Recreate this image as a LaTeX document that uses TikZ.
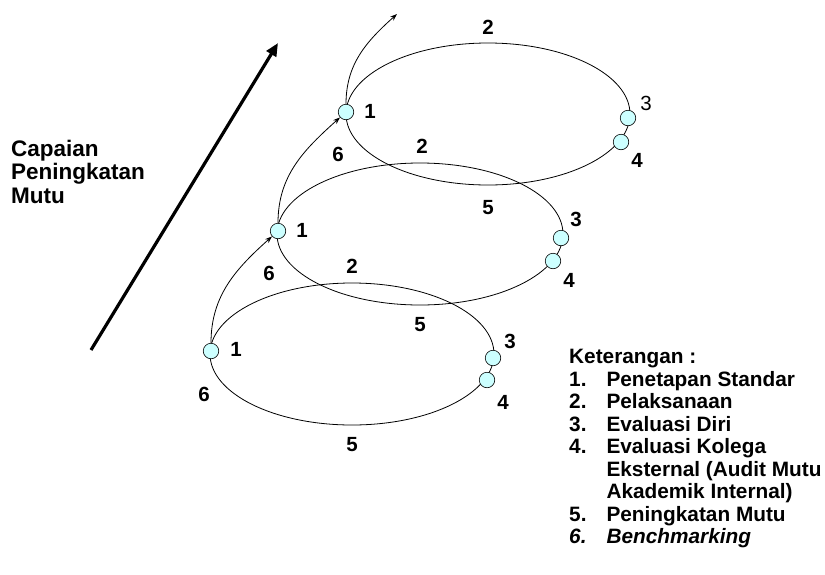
\documentclass[tikz,border=0pt]{standalone}
\usepackage{fontspec}
\setmainfont{Liberation Sans}
\usepackage{xcolor}
\usetikzlibrary{arrows.meta}
\definecolor{dotcyan}{RGB}{204,255,255}

\begin{document}
\begin{tikzpicture}[x=1pt, y=-1pt,
	loop/.style={draw, line width=0.8pt},
	dot/.style={circle, draw, fill=dotcyan, line width=0.6pt, minimum size=15.5pt, inner sep=0pt},
	num/.style={font=\fontsize{20.5}{22}\selectfont\bfseries},
	arr/.style={draw, line width=0.8pt, -{Stealth[length=7pt, width=5pt]}}
]
\useasboundingbox (0,0) rectangle (825,574);

% the three cycles, lowest first
\draw[loop] (352,354) ellipse [x radius=142, y radius=71];
\draw[loop] (420,234) ellipse [x radius=143, y radius=71];
\draw[loop] (488,114) ellipse [x radius=142, y radius=71];

\node[dot] (b1) at (211,351) {};
\node[dot] (b3) at (493,358) {};
\node[dot] (b4) at (487,380) {};
\node[dot] (m1) at (278,231) {};
\node[dot] (m3) at (561,238) {};
\node[dot] (m4) at (553,261) {};
\node[dot] (t1) at (346,112) {};
\node[dot] (t3) at (628,118) {};
\node[dot] (t4) at (621,142) {};
\coordinate (up) at (397,14);

\path[arr] (b1) to[out=90, in=222] (m1);
\path[arr] (m1) to[out=90, in=222] (t1);
\path[arr] (t1) to[out=90, in=222] (up);

% labels of the lowest cycle
\node[num] (b1l) at (236,349) {1};
\node[num] (b2l) at (352,266) {2};
\node[num] (b3l) at (510,341) {3};
\node[num] (b4l) at (503,402) {4};
\node[num] (b5l) at (352,445) {5};
\node[num] (b6l) at (204,394) {6};
% labels of the middle cycle
\node[num] (m1l) at (302,230) {1};
\node[num] (m2l) at (422,146) {2};
\node[num] (m3l) at (576,219) {3};
\node[num] (m4l) at (569,280) {4};
\node[num] (m5l) at (420,325) {5};
\node[num] (m6l) at (269,273) {6};
% labels of the top cycle
\node[num] (t1l) at (370,111) {1};
\node[num] (t2l) at (488,27) {2};
\node[num, font=\fontsize{20.5}{22}\selectfont] (t3l) at (646,103) {3};
\node[num] (t4l) at (637,160) {4};
\node[num] (t5l) at (488,208) {5};
\node[num] (t6l) at (338,154) {6};

% rising quality
\coordinate (rise0) at (91,350);
\coordinate (rise1) at (278,43);
\draw[line width=3.2pt, -{Triangle[length=13pt, width=11pt]}] (rise0) -- (rise1);
\node[anchor=north west, align=left, inner sep=0pt,
	font=\fontsize{22.5}{23.5}\selectfont\bfseries] (goal) at (11,139.5)
	{Capaian\\Peningkatan\\Mutu};

\node[anchor=north west, inner sep=0pt,
	font=\fontsize{20.8}{22.5}\selectfont\bfseries] (legend) at (569,348)
{\begin{tabular}{@{}l@{\hspace{20pt}}l@{}}
\multicolumn{2}{@{}l@{}}{Keterangan :}\\
1. & Penetapan Standar\\
2. & Pelaksanaan\\
3. & Evaluasi Diri\\
4. & Evaluasi Kolega\\
   & Eksternal (Audit Mutu\\
   & Akademik Internal)\\
5. & Peningkatan Mutu\\
\textit{6.} & \textit{Benchmarking}
\end{tabular}};
\end{tikzpicture}
\end{document}
